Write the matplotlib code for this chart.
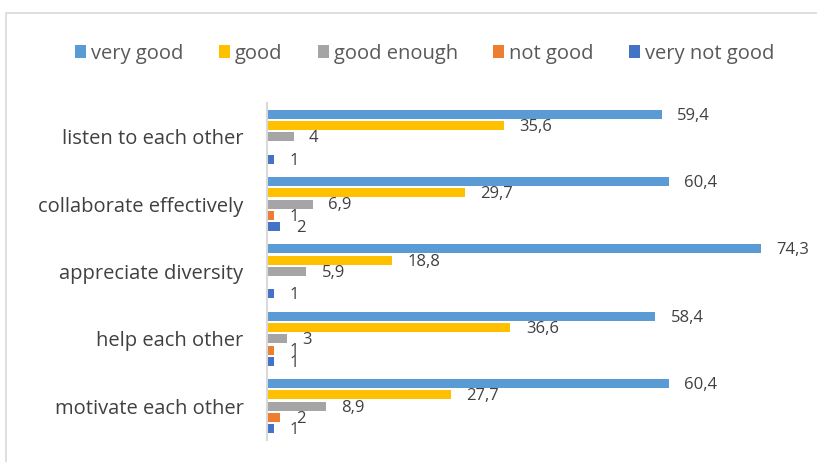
import numpy as np
import matplotlib
matplotlib.use("Agg")
import matplotlib.pyplot as plt
from matplotlib.patches import Rectangle

plt.rcParams['font.family'] = ['Open Sans', 'DejaVu Sans']

# data
categories = ["listen to each other", "collaborate effectively", "appreciate diversity",
              "help each other", "motivate each other"]
series = ["very good", "good", "good enough", "not good", "very not good"]
very_good = [59.4, 60.4, 74.3, 58.4, 60.4]
good = [35.6, 29.7, 18.8, 36.6, 27.7]
good_enough = [4, 6.9, 5.9, 3, 8.9]
not_good = [np.nan, 1, np.nan, 1, 2]
very_not_good = [1, 2, 1, 1, 1]
colors = ["#5B9BD5", "#FFC000", "#A5A5A5", "#ED7D31", "#4472C4"]

values = [very_good, good, good_enough, not_good, very_not_good]

fig = plt.figure(figsize=(8.17, 4.62), dpi=100)
ax = fig.add_axes([0.327, 0.048, 0.651, 0.729])

# chart frame
fig.patches.append(Rectangle((6 / 817, -0.1), 1.1, 1 - 13 / 462 + 0.1,
                             transform=fig.transFigure, fill=False,
                             edgecolor="#D9D9D9", linewidth=1.2))

pitch = 0.167
height = 0.134
y = np.arange(len(categories))
for j, (name, vals, c) in enumerate(zip(series, values, colors)):
    pos = y + (j - 2) * pitch
    ax.barh(pos, vals, height=height, color=c, label=name)
    for p, v in zip(pos, vals):
        if np.isnan(v):
            continue
        txt = f"{v:g}".replace(".", ",")
        ax.annotate(txt, (v, p), xytext=(11, -1), textcoords="offset points",
                    va="center", ha="left", fontsize=12, color="#404040")

ax.set_xlim(0, 80)
ax.set_ylim(4.5, -0.5)
ax.set_yticks(y)
ax.set_yticklabels(categories, fontsize=14.5, color="#404040")
ax.tick_params(axis="y", length=0, pad=17)
ax.set_xticks([])
for s in ["top", "right", "bottom"]:
    ax.spines[s].set_visible(False)
ax.spines["left"].set_color("#D9D9D9")
ax.spines["left"].set_linewidth(1.5)

fig.legend(loc="center", bbox_to_anchor=(0.52, 0.884), ncol=5, frameon=False,
           fontsize=14.5, labelcolor="#595959", handlelength=0.55, handleheight=0.55,
           handletextpad=0.25, columnspacing=1.75)

fig.savefig("out.png", dpi=100)
